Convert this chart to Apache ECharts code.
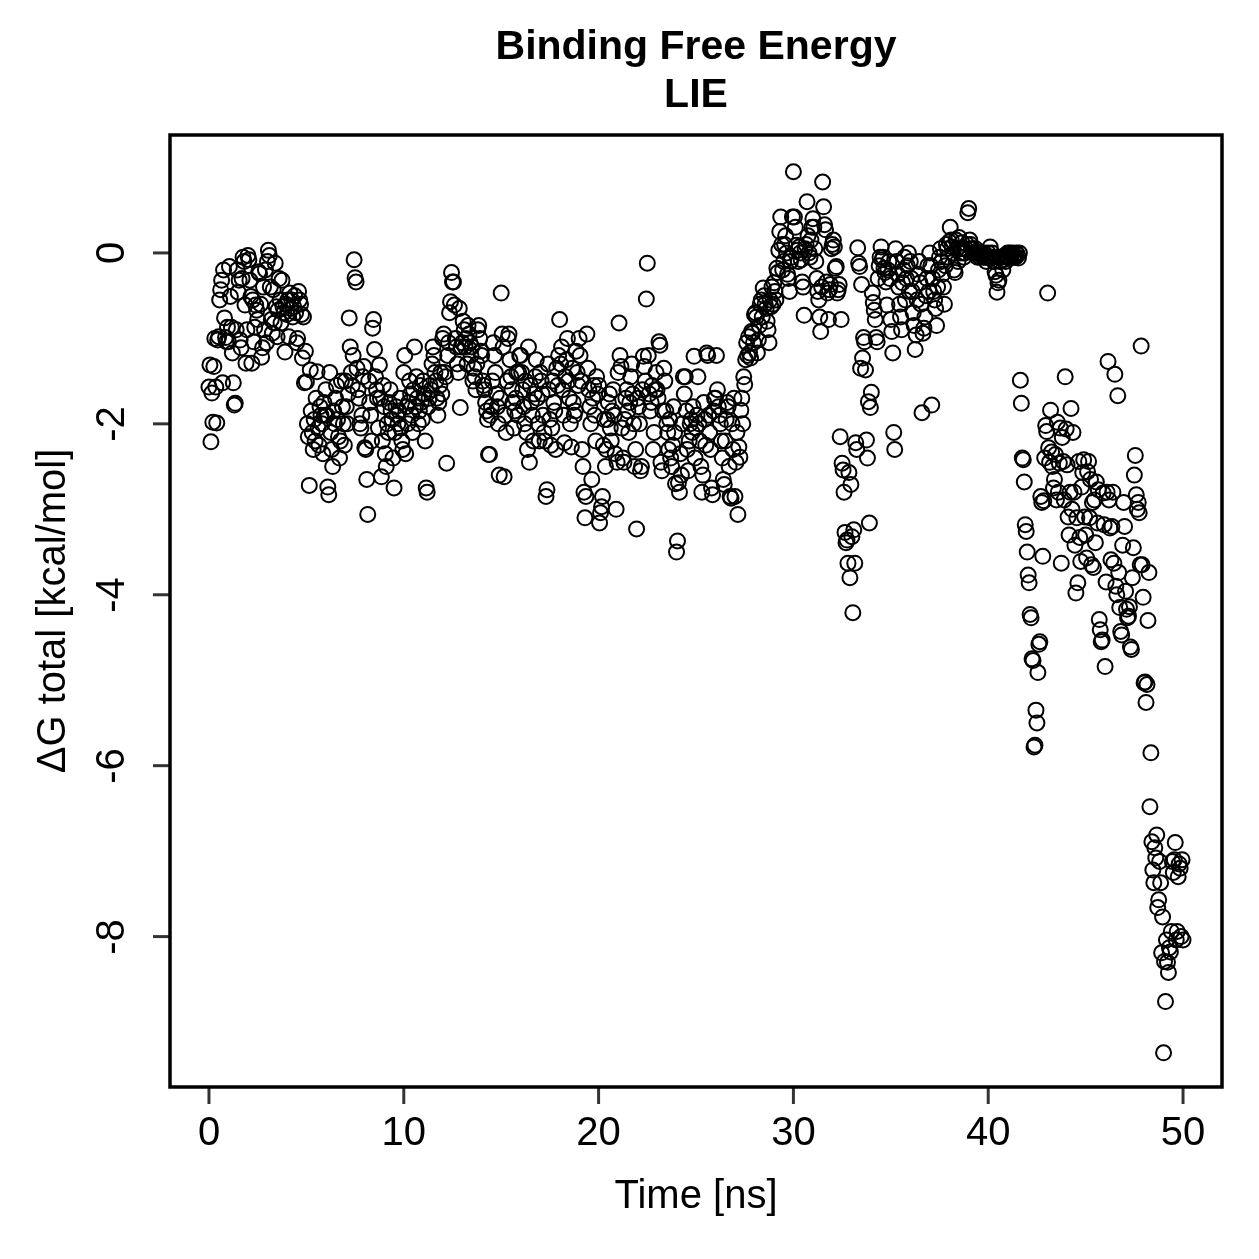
<!DOCTYPE html>
<html>
<head>
<meta charset="utf-8">
<title>Binding Free Energy LIE</title>
<script src="https://cdn.jsdelivr.net/npm/echarts@6/dist/echarts.min.js"></script>
<style>
  html, body { margin: 0; padding: 0; background: #fff; }
  #chart { width: 1259px; height: 1259px; }
</style>
</head>
<body>
<div id="chart"></div>
<script>
// one frame every 0.05 ns, 20 frames per line (one line = 1 ns)
const timeStep = 0.05;

const dG_0_10 = [
  -1.57, -1.31, -2.21, -1.64, -1.98, -1.33, -1.0, -1.57, -1.99, -1.02, -0.98, -0.55, -0.43, -0.32, -1.52, -0.2, -0.76, -0.99, -1.04, -0.87,
  -1.04, -0.16, -0.51, -0.87, -1.17, -1.52, -1.78, -1.76, -0.9, -0.2, -0.46, -0.32, -1.02, -1.11, -0.3, -0.05, -0.1, -0.61, -1.29, -0.9,
  -0.03, -0.08, -0.32, -0.51, -1.29, -0.55, -1.04, -0.87, -0.61, -0.67, -0.78, -0.22, -0.24, -0.6, -1.22, -1.11, -0.4, -0.9, -0.2, -1.05,
  -0.1, 0.03, -0.03, -0.4, -0.78, -0.94, -0.43, -0.82, -0.12, -0.63, -0.98, -0.67, -0.3, -0.55, -0.82, -0.32, -0.63, -0.7, -1.16, -0.6,
  -0.72, -0.55, -0.98, -0.47, -0.65, -0.55, -0.75, -0.63, -0.5, -0.7, -1.05, -1.0, -0.45, -0.55, -0.6, -0.72, -1.23, -0.75, -1.52, -1.15,
  -1.51, -2.0, -2.15, -2.72, -1.37, -1.85, -2.1, -2.3, -1.95, -2.2, -1.7, -1.39, -2.05, -2.25, -1.8, -1.9, -2.0, -2.35, -1.75, -1.9,
  -1.6, -1.9, -2.74, -2.83, -1.4, -2.1, -2.3, -2.5, -1.85, -2.0, -1.7, -1.55, -1.95, -2.15, -2.4, -2.2, -1.5, -1.8, -2.0, -2.25,
  -1.5, -1.8, -2.0, -1.65, -0.76, -1.1, -1.4, -1.55, -1.2, -0.08, -0.29, -0.34, -1.35, -1.6, -1.7, -2.0, -2.05, -1.9, -1.45, -1.33,
  -2.28, -2.3, -2.65, -3.06, -1.5, -1.75, -1.9, -2.2, -0.88, -0.78, -1.13, -1.45, -1.6, -1.7, -2.05, -1.31, -1.7, -2.62, -2.2, -1.55,
  -1.8, -2.35, -2.5, -2.0, -2.1, -1.75, -1.6, -1.85, -1.95, -2.4, -2.75, -2.1, -1.8, -1.9, -2.0, -1.85, -1.7, -2.05, -2.2, -2.3
];

const dG_10_20 = [
  -1.4, -1.2, -2.35, -1.8, -2.0, -1.75, -1.5, -1.65, -1.9, -2.1, -1.6, -1.1, -1.8, -1.45, -1.7, -2.0, -1.85, -1.55, -1.75, -1.95,
  -1.5, -1.65, -2.2, -2.75, -2.8, -1.8, -1.7, -1.55, -1.6, -1.3, -1.1, -1.2, -1.4, -1.5, -1.7, -1.9, -1.75, -1.55, -1.4, -1.65,
  -1.0, -0.95, -1.4, -1.45, -2.46, -1.2, -1.05, -0.7, -0.57, -0.23, -0.34, -0.34, -0.61, -1.0, -1.1, -1.3, -1.4, -0.65, -1.81, -1.1,
  -1.05, -0.8, -0.9, -1.1, -1.0, -1.3, -0.85, -0.95, -1.05, -1.2, -1.1, -1.5, -1.35, -1.45, -1.6, -1.3, -0.9, -0.85, -1.0, -1.15,
  -1.2, -1.5, -1.55, -1.6, -1.75, -1.85, -1.95, -2.36, -2.36, -1.9, -1.8, -1.5, -1.05, -1.2, -1.4, -1.65, -1.8, -2.0, -2.6, -1.7,
  -0.47, -0.95, -1.1, -2.62, -1.9, -2.1, -1.5, -1.0, -0.95, -1.25, -1.45, -1.6, -1.75, -2.05, -1.85, -1.7, -1.4, -1.9, -1.4, -1.2,
  -1.2, -1.4, -1.6, -1.8, -2.0, -1.5, -2.1, -2.3, -1.1, -2.45, -1.55, -1.75, -1.9, -2.2, -1.65, -1.45, -1.25, -1.7, -2.0, -2.2,
  -1.4, -1.5, -1.65, -1.9, -2.1, -2.2, -2.85, -2.77, -1.3, -1.6, -1.95, -2.25, -2.05, -1.5, -1.75, -1.85, -2.3, -1.35, -1.55, -1.2,
  -0.78, -1.3, -1.1, -1.6, -1.9, -2.22, -1.45, -1.25, -1.0, -1.5, -1.7, -2.0, -2.27, -1.35, -1.75, -1.9, -1.85, -1.15, -1.4, -1.55,
  -1.0, -1.2, -1.5, -2.3, -2.5, -2.8, -3.1, -2.85, -0.95, -1.35, -1.6, -1.8, -2.0, -2.65, -1.7, -1.55, -1.9, -2.2, -1.45, -1.65
];

const dG_20_30 = [
  -1.55, -3.16, -3.04, -2.97, -2.85, -2.25, -1.95, -2.5, -2.3, -1.95, -1.75, -1.65, -2.05, -2.2, -1.85, -1.6, -1.9, -2.35, -3.0, -2.45,
  -1.4, -0.82, -1.2, -1.33, -2.05, -2.4, -2.45, -1.95, -1.7, -1.6, -1.85, -2.1, -1.75, -1.45, -1.3, -1.65, -2.0, -2.5, -2.3, -3.23,
  -1.7, -1.8, -2.0, -2.55, -2.5, -1.6, -1.21, -1.33, -1.5, -0.54, -0.12, -1.2, -1.65, -1.85, -1.75, -1.55, -2.3, -2.1, -1.6, -1.4,
  -1.6, -1.7, -1.04, -1.08, -2.45, -2.55, -1.85, -1.35, -1.5, -1.85, -2.0, -2.1, -2.3, -1.95, -2.4, -2.5, -2.25, -1.8, -2.1, -2.7,
  -3.5, -3.37, -2.69, -2.8, -2.35, -2.6, -2.0, -1.45, -1.65, -1.45, -1.85, -2.3, -2.55, -2.2, -2.0, -1.95, -2.1, -1.8, -1.21, -2.4,
  -2.05, -1.9, -1.45, -2.0, -2.2, -2.5, -2.8, -2.6, -1.75, -1.95, -2.25, -1.17, -1.2, -1.9, -2.1, -2.3, -2.75, -2.83, -1.85, -1.7,
  -1.7, -1.2, -1.6, -1.8, -1.9, -2.0, -2.2, -2.4, -2.65, -2.71, -2.2, -1.95, -1.75, -1.8, -2.5, -2.85, -2.87, -2.0, -2.3, -1.7,
  -2.85, -2.45, -2.1, -3.06, -2.27, -2.39, -1.84, -1.7, -2.0, -1.45, -1.54, -1.25, -1.05, -1.2, -0.98, -1.17, -1.23, -0.92, -0.94, -1.05,
  -0.72, -0.7, -0.75, -1.17, -1.02, -0.85, -0.6, -0.55, -0.75, -0.41, -0.5, -0.6, -0.65, -0.8, -0.9, -1.05, -0.55, -0.63, -0.4, -0.6,
  -0.35, -0.45, -0.55, -0.18, -0.23, 0.03, 0.25, 0.42, 0.1, -0.2, -0.1, 0.1, 0.2, 0.0, -0.25, -0.3, -0.45, -0.1, -0.05, 0.42
];

const dG_30_40 = [
  0.95, 0.42, 0.3, 0.09, 0.03, -0.1, 0.07, 0.0, -0.08, -0.34, -0.4, -0.73, 0.05, 0.1, 0.6, 0.2, 0.0, -0.05, 0.15, 0.3,
  0.4, 0.3, 0.05, -0.1, -0.3, -0.45, -0.55, -0.75, -0.92, -0.4, 0.83, 0.54, 0.33, 0.27, -0.34, -0.47, -0.78, -0.43, -0.37, 0.05,
  0.1, 0.15, 0.07, -0.18, -0.16, -0.47, -0.43, -0.37, -2.15, -0.78, -2.46, -2.54, -2.8, -3.27, -3.39, -3.36, -3.63, -2.57, -3.8, -2.71,
  -3.32, -4.21, -3.24, -3.63, -2.22, -2.3, 0.06, -0.12, -0.16, -1.35, -0.37, -1.23, -0.99, -1.04, -1.37, -2.19, -2.4, -1.74, -3.16, -1.81,
  -1.63, -0.47, -0.58, -0.67, -0.78, -0.99, -1.04, -0.3, -0.15, -0.05, 0.07, -0.08, -0.05, -0.18, -0.23, -0.34, -0.61, -0.2, -0.1, -0.3,
  -0.78, -0.92, -1.17, -2.1, -2.3, 0.05, -0.1, -0.25, -0.4, -0.6, -0.75, -0.9, -0.35, -0.2, -0.05, -0.55, -0.3, -0.15, 0.0, -0.45,
  -0.1, -0.3, -0.45, -0.7, -0.85, -1.13, -0.96, -0.55, -0.25, -0.1, -0.35, -0.6, -1.87, -0.94, -0.88, -0.75, -0.5, -0.3, -0.15, -0.45,
  0.0, -0.15, -1.78, -0.3, -0.45, -0.55, -0.65, -0.85, -0.4, -0.2, -0.05, 0.05, -0.1, -0.25, -0.4, -0.6, -0.15, 0.1, 0.05, -0.05,
  0.13, 0.3, 0.15, 0.07, 0.0, -0.2, -0.23, 0.15, 0.05, -0.1, 0.18, 0.0, 0.05, 0.12, 0.0, -0.05, 0.0, 0.05, 0.1, 0.47,
  0.52, 0.15, 0.1, 0.05, 0.05, 0.0, 0.0, 0.05, 0.0, -0.05, 0.0, 0.0, -0.05, 0.0, 0.0, -0.05, 0.0, -0.05, -0.1, -0.05
];

const dG_40_50 = [
  0.0, -0.05, 0.07, -0.05, 0.0, -0.05, -0.1, -0.22, -0.26, -0.46, -0.35, -0.32, -0.1, -0.05, -0.05, -0.2, -0.08, -0.03, -0.1, -0.05,
  0.0, -0.05, 0.0, -0.05, -0.02, 0.0, -0.05, -0.03, -0.05, 0.0, -0.02, -0.06, 0.0, -1.49, -1.76, -2.4, -2.42, -2.68, -3.18, -3.26,
  -3.5, -3.77, -3.86, -4.23, -4.27, -4.75, -4.77, -5.78, -5.76, -5.35, -5.5, -4.91, -4.58, -4.55, -2.85, -2.92, -3.55, -2.9, -2.4, -2.02,
  -2.09, -0.47, -2.28, -2.45, -1.84, -2.33, -2.5, -2.75, -2.65, -2.36, -2.89, -1.98, -2.8, -2.46, -2.05, -3.63, -2.16, -2.44, -2.89, -1.45,
  -2.06, -2.48, -3.09, -3.3, -2.8, -1.82, -3.0, -2.1, -2.8, -3.42, -3.98, -3.1, -3.86, -2.44, -3.33, -3.61, -2.74, -2.57, -2.42, -3.09,
  -3.3, -3.57, -2.56, -2.44, -3.1, -2.65, -3.65, -2.92, -3.68, -2.89, -3.39, -2.68, -3.16, -2.77, -4.29, -4.41, -4.55, -4.53, -2.81, -3.18,
  -4.84, -3.85, -2.8, -1.27, -2.89, -3.22, -3.59, -3.2, -2.8, -3.63, -1.42, -3.9, -4.0, -1.67, -3.74, -4.15, -4.43, -4.47, -3.42, -2.92,
  -3.2, -3.96, -4.17, -4.27, -4.25, -4.14, -4.61, -4.64, -3.8, -3.45, -2.6, -2.37, -2.83, -3.0, -2.92, -3.04, -3.65, -1.09, -3.65, -4.03,
  -5.03, -5.02, -5.26, -5.05, -4.3, -3.74, -6.48, -5.85, -6.89, -7.22, -7.37, -6.96, -7.08, -6.81, -7.66, -7.57, -7.12, -7.37, -8.19, -7.77,
  -9.36, -8.29, -8.76, -8.04, -8.3, -8.42, -8.13, -8.18, -7.94, -7.12, -7.25, -7.1, -6.9, -8.04, -7.94, -7.3, -7.15, -7.2, -8.0, -7.1,
  -8.04
];

const xTicks = [0, 10, 20, 30, 40, 50];
const yTicks = [-8, -6, -4, -2, 0];

// plot range (R pads the data range by 4% on each side)
const xMin = -2, xMax = 52;
const yMin = -9.76, yMax = 1.38;

const allValues = [].concat(dG_0_10, dG_10_20, dG_20_30, dG_30_40, dG_40_50);
const points = allValues.map((v, i) => [+(i * timeStep).toFixed(2), v]);

const FONT = '"Liberation Sans", Arial, Helvetica, sans-serif';
const INK = '#000';
const TICK_LEN = 17;
const TICK_W = 3;

const chart = echarts.init(document.getElementById('chart'), null, { renderer: 'canvas' });

const hidden = { show: false };
const labelStyle = { fontFamily: FONT, fontSize: 40, color: INK };

// tick marks: short bars placed on the box edge at each tick value, pushed outward
const xTickMarks = xTicks.map((t) => [t, yMin]);
const yTickMarks = yTicks.map((t) => [xMin, t]);

chart.setOption({
  animation: false,
  backgroundColor: '#fff',
  title: {
    text: 'Binding Free Energy\nLIE',
    left: 696,
    top: 24,
    padding: 0,
    textAlign: 'center',
    textStyle: { fontFamily: FONT, fontSize: 41, fontWeight: 'bold', color: INK, lineHeight: 48 }
  },
  grid: [
    // 0: data region (box)
    { left: 170, right: 37, top: 135, bottom: 172, show: true, borderColor: INK, borderWidth: 3.5, backgroundColor: 'transparent' },
    // 1: x tick labels 0..50
    { left: 209, right: 76, top: 135, bottom: 172, show: false },
    // 2: y tick labels -8..0
    { left: 170, right: 37, top: 253, bottom: 322, show: false }
  ],
  xAxis: [
    {
      gridIndex: 0, type: 'value', min: xMin, max: xMax,
      name: 'Time [ns]', nameLocation: 'middle', nameGap: 90, nameTextStyle: labelStyle,
      axisLine: { show: false, onZero: false }, axisTick: hidden, axisLabel: hidden, splitLine: hidden
    },
    {
      gridIndex: 1, type: 'value', position: 'bottom', min: xTicks[0], max: xTicks[xTicks.length - 1], interval: 10,
      axisLine: { show: false, onZero: false }, axisTick: hidden, splitLine: hidden,
      axisLabel: Object.assign({ margin: 27 }, labelStyle)
    },
    { gridIndex: 2, type: 'value', min: 0, max: 1, show: false }
  ],
  yAxis: [
    {
      gridIndex: 0, type: 'value', min: yMin, max: yMax,
      name: 'ΔG total [kcal/mol]', nameLocation: 'middle', nameGap: 96, nameRotate: 90, nameTextStyle: labelStyle,
      axisLine: { show: false, onZero: false }, axisTick: hidden, axisLabel: hidden, splitLine: hidden
    },
    { gridIndex: 1, type: 'value', min: 0, max: 1, show: false },
    {
      gridIndex: 2, type: 'value', position: 'left', min: yTicks[0], max: yTicks[yTicks.length - 1], interval: 2,
      axisLine: { show: false, onZero: false }, axisTick: hidden, splitLine: hidden,
      axisLabel: Object.assign({ rotate: 90, margin: 37 }, labelStyle)
    }
  ],
  series: [
    {
      type: 'scatter',
      xAxisIndex: 0,
      yAxisIndex: 0,
      data: points,
      symbol: 'circle',
      symbolSize: 15,
      silent: true,
      itemStyle: { color: 'rgba(0,0,0,0)', borderColor: INK, borderWidth: 2, opacity: 1 }
    },
    {
      name: 'x ticks',
      type: 'scatter',
      xAxisIndex: 0,
      yAxisIndex: 0,
      data: xTickMarks,
      clip: false,
      silent: true,
      symbol: 'rect',
      symbolSize: [TICK_W, TICK_LEN],
      symbolOffset: [0, TICK_LEN / 2],
      itemStyle: { color: INK, borderWidth: 0 }
    },
    {
      name: 'y ticks',
      type: 'scatter',
      xAxisIndex: 0,
      yAxisIndex: 0,
      data: yTickMarks,
      clip: false,
      silent: true,
      symbol: 'rect',
      symbolSize: [TICK_LEN, TICK_W],
      symbolOffset: [-TICK_LEN / 2, 0],
      itemStyle: { color: INK, borderWidth: 0 }
    }
  ]
});
</script>
</body>
</html>
